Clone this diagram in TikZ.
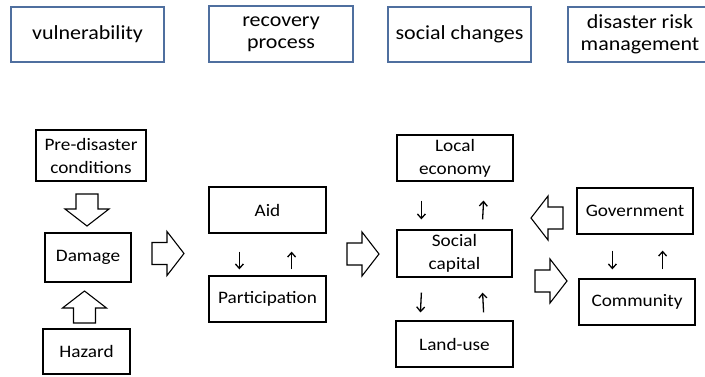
\documentclass[tikz,border=0pt]{standalone}
\usepackage{fontspec}
\setmainfont{Carlito}[FakeStretch=1.1]
\usetikzlibrary{arrows.meta}
\definecolor{headblue}{RGB}{79,111,159}
\tikzset{
  header/.style={draw=headblue, line width=1.8pt, align=center, inner sep=0pt,
    font=\fontsize{20}{22}\selectfont, text=black},
  stagebox/.style={draw=black, line width=1.2pt, align=center, inner sep=0pt,
    font=\fontsize{17.5}{23}\selectfont},
  smallarr/.style={line width=1.3pt, -{Straight Barb[length=4.5pt,width=8pt]}},
  blockarrow/.pic={
    \draw[line width=1.1pt, line join=miter, fill=white]
      (0,-11) -- (15,-11) -- (15,-22) -- (32,0) -- (15,22) -- (15,11) -- (0,11) -- cycle;
  }
}
\begin{document}
\begin{tikzpicture}[x=1pt, y=-1pt]
\useasboundingbox (0,0) rectangle (705,376);

% column headings
\node[header, minimum width=153pt, minimum height=55pt] (vul) at (87.5,34.5) {vulnerability};
\node[header, minimum width=144pt, minimum height=56pt] (rec) at (281,34) {recovery\\process};
\node[header, minimum width=143pt, minimum height=55pt] (soc) at (459.5,34.5) {social changes};
\node[header, minimum width=144pt, minimum height=55pt] (drm) at (640,34.5) {disaster risk\\management};

% vulnerability column
\node[stagebox, minimum width=110pt, minimum height=51pt] (pre) at (91,155.5) {Pre-disaster\\conditions};
\node[stagebox, minimum width=86pt, minimum height=49pt] (dam) at (88,257.5) {Damage};
\node[stagebox, minimum width=87pt, minimum height=45pt] (haz) at (86.5,351.5) {Hazard};

% recovery column
\node[stagebox, minimum width=117pt, minimum height=46pt] (aid) at (267.5,210) {Aid};
\node[stagebox, minimum width=117pt, minimum height=46pt] (par) at (267.5,299) {Participation};

% social changes column
\node[stagebox, minimum width=116pt, minimum height=46pt] (loc) at (455,158) {Local\\economy};
\node[stagebox, minimum width=115pt, minimum height=47pt] (scap) at (454.5,253.5) {Social\\capital};
\node[stagebox, minimum width=117pt, minimum height=46pt] (land) at (454.5,344) {Land-use};

% disaster risk management column
\node[stagebox, minimum width=116pt, minimum height=46pt] (gov) at (635,211) {Government};
\node[stagebox, minimum width=116pt, minimum height=46pt] (com) at (637,302) {Community};

% hollow block arrows between stages
\pic[rotate=-90] at (87,194) {blockarrow};
\pic[rotate=90] at (84.5,323) {blockarrow};
\pic at (152,253.5) {blockarrow};
\pic at (347,254) {blockarrow};
\pic[rotate=180] at (563,218) {blockarrow};
\pic at (535,281) {blockarrow};

% two-way links inside the columns
\draw[smallarr] ([xshift=31pt,yshift=-18pt]aid.south west) -- ([xshift=31pt,yshift=6pt]par.north west);
\draw[smallarr] ([xshift=-35pt,yshift=6pt]par.north east) -- ([xshift=-35pt,yshift=-18pt]aid.south east);

\draw[smallarr] ([xshift=25pt,yshift=-19pt]loc.south west) -- ([xshift=25pt,yshift=10pt]scap.north west);
\draw[smallarr] ([xshift=-30pt,yshift=10pt]scap.north east) -- ([xshift=-30pt,yshift=-19pt]loc.south east);

\draw[smallarr] ([xshift=25pt,yshift=-15pt]scap.south west) -- ([xshift=25pt,yshift=8pt]land.north west);
\draw[smallarr] ([xshift=-30pt,yshift=8pt]land.north east) -- ([xshift=-30pt,yshift=-15pt]scap.south east);

\draw[smallarr] ([xshift=36pt,yshift=-16pt]gov.south west) -- ([xshift=34pt,yshift=9pt]com.north west);
\draw[smallarr] ([xshift=-33pt,yshift=9pt]com.north east) -- ([xshift=-31pt,yshift=-16pt]gov.south east);
\end{tikzpicture}
\end{document}
